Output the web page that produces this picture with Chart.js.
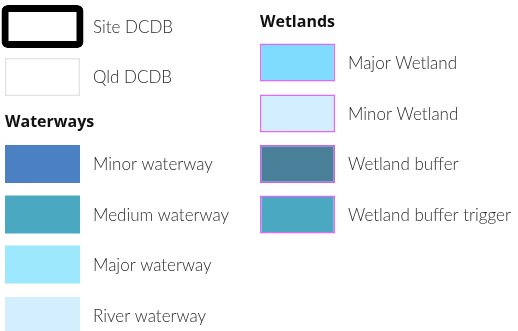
<!DOCTYPE html>
<html>
<head>
<meta charset="utf-8">
<script src="https://cdn.jsdelivr.net/npm/chart.js@4.4.1/dist/chart.umd.min.js"></script>
<style>
  html, body { margin: 0; padding: 0; background: #fff; }
  #wrap { width: 518px; height: 331px; position: relative; }
</style>
</head>
<body>
<div id="wrap"><canvas id="legend"></canvas></div>
<script>
// legend entries: column (0 left, 1 right), row position (in rows), label, fill, outline
const itemLabels  = ['Site DCDB', 'Qld DCDB', 'Minor waterway', 'Medium waterway', 'Major waterway', 'River waterway',
                     'Major Wetland', 'Minor Wetland', 'Wetland buffer', 'Wetland buffer trigger'];
const itemColumns = [0, 0, 0, 0, 0, 0, 1, 1, 1, 1];
const itemRows    = [0, 1.01, 2.75, 3.76, 4.76, 5.79, 0.72, 1.74, 2.75, 3.76];
const itemFills   = ['#ffffff', '#ffffff', '#4b80c2', '#4aa8c1', '#9ee8fd', '#d3eefc',
                     '#80dcff', '#d3eefc', '#4a7f99', '#4aa8c1'];
const itemBorders = ['#000000', '#e2e2e2', null, null, null, null,
                     '#e068ff', '#e068ff', '#c066ee', '#e068ff'];

const headerLabels  = ['Waterways', 'Wetlands'];
const headerColumns = [0, 1];
const headerRows    = [1.91, -0.09];

const HALF = 0.38;          // half swatch height, in rows
const SITE = 0;             // index of the heavy outlined swatch

const labelPlugin = {
  id: 'legendText',
  afterDatasetsDraw(chart) {
    const { ctx, scales: { x, y } } = chart;
    ctx.save();
    ctx.textBaseline = 'middle';
    ctx.textAlign = 'left';
    ctx.fillStyle = '#2c2c2c';
    ctx.font = '300 17px Lato, "Open Sans", sans-serif';
    itemLabels.forEach((t, i) => {
      ctx.fillText(t, x.getPixelForValue(itemColumns[i]) + 50.5, y.getPixelForValue(itemRows[i]) + 1);
    });
    ctx.fillStyle = '#111';
    ctx.font = 'bold 16px "Open Sans", sans-serif';
    headerLabels.forEach((t, i) => {
      ctx.fillText(t, x.getPixelForValue(headerColumns[i]) - 37.5, y.getPixelForValue(headerRows[i]));
    });
    ctx.restore();
  }
};

new Chart(document.getElementById('legend'), {
  type: 'bar',
  data: {
    datasets: [{
      data: itemRows.map((r, i) => ({ x: itemColumns[i], y: [r - (i === SITE ? 0.36 : HALF), r + (i === SITE ? 0.36 : HALF)] })),
      backgroundColor: itemFills,
      borderColor: itemBorders.map(c => c || 'rgba(0,0,0,0)'),
      borderWidth: itemBorders.map((c, i) => i === SITE ? 7 : (c ? 1.5 : 0)),
      borderRadius: itemBorders.map((c, i) => i === SITE ? 6 : 0),
      borderSkipped: false,
      inflateAmount: itemBorders.map((c, i) => i === SITE ? 3.5 : 0),
      barThickness: 75,
    }],
  },
  options: {
    responsive: true, maintainAspectRatio: false, animation: false,
    layout: { padding: 0 },
    plugins: { legend: { display: false }, tooltip: { enabled: false } },
    scales: {
      x: { type: 'linear', display: false, offset: false, grace: 0, min: -42.5 / 255, max: (518 - 42.5) / 255 },
      y: { type: 'linear', display: false, reverse: true, grace: 0, min: -26.5 / 50, max: (331 - 26.5) / 50 },
    },
  },
  plugins: [labelPlugin],
});
</script>
</body>
</html>
